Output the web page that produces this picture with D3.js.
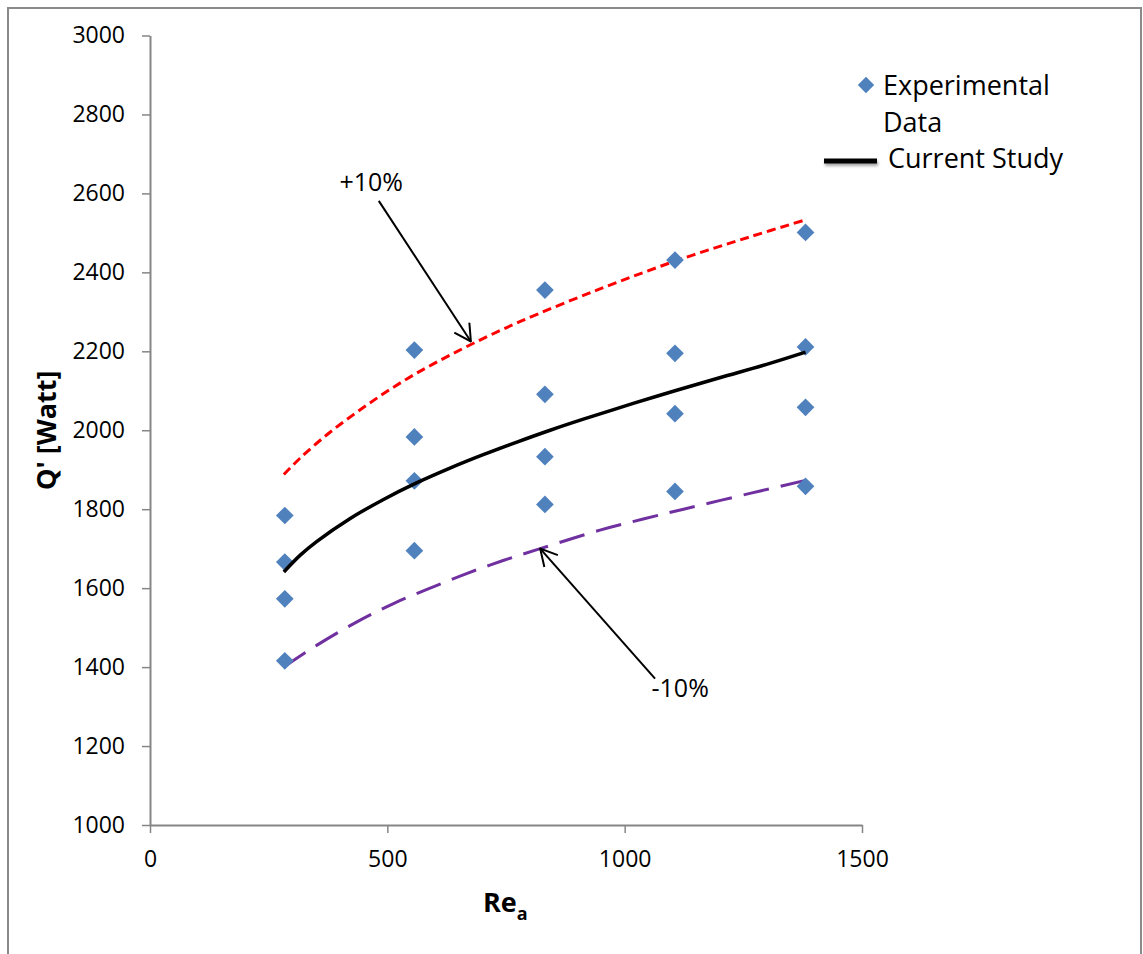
<!DOCTYPE html>
<html>
<head>
<meta charset="utf-8">
<script src="https://cdn.jsdelivr.net/npm/d3@7"></script>
<style>
  html, body { margin: 0; padding: 0; background: #fff; }
  svg { display: block; font-family: "Open Sans", "Liberation Sans", sans-serif; }
</style>
</head>
<body>
<svg id="chart" width="1143" height="954"></svg>
<script>
// Reynolds numbers of the measured cases
const reLevels = [284, 557, 832, 1106, 1381];
// Measured heat rates Q' [W], four runs per Reynolds number
const qExpRun1 = [1784, 2203, 2355, 2431, 2501];
const qExpRun2 = [1666, 1983, 2091, 2195, 2211];
const qExpRun3 = [1573, 1872, 1933, 2042, 2058];
const qExpRun4 = [1416, 1695, 1812, 1845, 1858];

// Current study prediction
const studyRe = [282, 316, 351, 421, 491, 557, 632, 702, 773, 843, 913, 1018, 1106, 1200, 1299, 1381];
const studyQ  = [1641, 1683, 1718, 1776, 1824, 1864, 1904, 1938, 1970, 2000, 2028, 2068, 2100, 2133, 2167, 2198];

// +10% band
const upperRe = [282, 316, 372, 428, 485, 541, 597, 674, 779, 948, 1110, 1264, 1381];
const upperQ  = [1888, 1929, 1988, 2039, 2087, 2130, 2168, 2216, 2275, 2358, 2430, 2490, 2533];

// -10% band
const lowerRe = [282, 351, 435, 513, 590, 667, 744, 822, 948, 1039, 1124, 1264, 1381];
const lowerQ  = [1400, 1455, 1514, 1561, 1600, 1637, 1670, 1700, 1747, 1775, 1800, 1840, 1873];

const xTicks = [0, 500, 1000, 1500];
const yTicks = [1000, 1200, 1400, 1600, 1800, 2000, 2200, 2400, 2600, 2800, 3000];

// Band annotations: label centre, arrow start and arrow tip (data units)
const plusLabel  = { text: "+10%", re: 466, q: 2605, startRe: 482, startQ: 2581, tipRe: 676, tipQ: 2225 };
const minusLabel = { text: "-10%", re: 1117, q: 1323, startRe: 1064, startQ: 1371, tipRe: 822, tipQ: 1700 };

const svg = d3.select("#chart");

const x = d3.scaleLinear().domain([0, 1500]).range([150, 862]);
const y = d3.scaleLinear().domain([1000, 3000]).range([825, 35.5]);

const axisColor = "#868686";

// outer frame
svg.append("rect")
  .attr("x", 8).attr("y", 8)
  .attr("width", 1133).attr("height", 1000)
  .attr("fill", "none")
  .attr("stroke", "#8a8a8a")
  .attr("stroke-width", 2);

// defs: open arrowhead and soft shadow
const defs = svg.append("defs");
defs.append("marker")
  .attr("id", "openArrow")
  .attr("viewBox", "0 0 20 20")
  .attr("refX", 19).attr("refY", 10)
  .attr("markerWidth", 20).attr("markerHeight", 20)
  .attr("markerUnits", "userSpaceOnUse")
  .attr("orient", "auto")
  .append("path")
  .attr("d", "M2.5,1 L19,10 L2.5,19")
  .attr("fill", "none")
  .attr("stroke", "#000")
  .attr("stroke-width", 2);

defs.append("filter").attr("id", "softBlur")
  .attr("x", "-20%").attr("y", "-100%").attr("width", "140%").attr("height", "300%")
  .append("feGaussianBlur").attr("stdDeviation", 1.6);

// axes
const fmt = d3.format("d");
const yAxis = d3.axisLeft(y).tickValues(yTicks).tickFormat(fmt).tickSize(8).tickSizeOuter(0).tickPadding(17);
const xAxis = d3.axisBottom(x).tickValues(xTicks).tickFormat(fmt).tickSize(8).tickSizeOuter(0).tickPadding(18);

const gy = svg.append("g").attr("transform", `translate(${x(0)},0)`).call(yAxis);
const gx = svg.append("g").attr("transform", `translate(0,${y(1000)})`).call(xAxis);

[gx, gy].forEach(g => {
  g.select(".domain").attr("stroke", axisColor).attr("stroke-width", 2);
  g.selectAll(".tick line").attr("stroke", axisColor).attr("stroke-width", 1.5);
  g.selectAll(".tick text")
    .attr("fill", "#000")
    .style("font-family", "'Open Sans', sans-serif")
    .style("font-size", "23px");
});

// axis titles
svg.append("text")
  .attr("transform", `translate(56,${(y(1000) + y(3000)) / 2}) rotate(-90)`)
  .attr("text-anchor", "middle")
  .style("font-size", "27px")
  .style("font-weight", "bold")
  .text("Q' [Watt]");

const xt = svg.append("text")
  .attr("x", 483).attr("y", 912)
  .style("font-size", "27px")
  .style("font-weight", "bold");
xt.append("tspan").text("Re");
xt.append("tspan").attr("dy", 8).style("font-size", "18px").text("a");

// curves
const line = d3.line()
  .x(d => x(d[0]))
  .y(d => y(d[1]))
  .curve(d3.curveCatmullRom.alpha(0.5));

const upper = upperRe.map((r, i) => [r, upperQ[i]]);
const lower = lowerRe.map((r, i) => [r, lowerQ[i]]);
const study = studyRe.map((r, i) => [r, studyQ[i]]);

svg.append("path").datum(upper)
  .attr("d", line).attr("fill", "none")
  .attr("stroke", "#ff0000").attr("stroke-width", 3)
  .attr("stroke-dasharray", "9 5");

svg.append("path").datum(lower)
  .attr("d", line).attr("fill", "none")
  .attr("stroke", "#7030a0").attr("stroke-width", 3)
  .attr("stroke-dasharray", "26 12");

// experimental diamonds
const expPoints = [];
[qExpRun1, qExpRun2, qExpRun3, qExpRun4].forEach(run =>
  run.forEach((q, i) => expPoints.push([reLevels[i], q])));

const diamond = d3.symbol().type(d3.symbolDiamond2).size(200);

svg.append("g").selectAll("path")
  .data(expPoints)
  .join("path")
  .attr("transform", d => `translate(${x(d[0])},${y(d[1])})`)
  .attr("d", diamond)
  .attr("fill", "#4f81bd");

svg.append("path").datum(study)
  .attr("d", line).attr("fill", "none")
  .attr("stroke", "#000").attr("stroke-width", 3.5);

// annotations
[plusLabel, minusLabel].forEach(a => {
  svg.append("line")
    .attr("x1", x(a.startRe)).attr("y1", y(a.startQ))
    .attr("x2", x(a.tipRe)).attr("y2", y(a.tipQ))
    .attr("stroke", "#000").attr("stroke-width", 2)
    .attr("marker-end", "url(#openArrow)");
  svg.append("text")
    .attr("x", x(a.re)).attr("y", y(a.q))
    .attr("text-anchor", "middle")
    .style("font-size", "25px")
    .text(a.text);
});

// legend
const legend = svg.append("g");
legend.append("path")
  .attr("transform", "translate(866,85)")
  .attr("d", d3.symbol().type(d3.symbolDiamond2).size(170))
  .attr("fill", "#4f81bd");
legend.append("text").attr("x", 883).attr("y", 95).style("font-size", "27px").text("Experimental");
legend.append("text").attr("x", 883).attr("y", 132).style("font-size", "27px").text("Data");
legend.append("rect")
  .attr("x", 825).attr("y", 161).attr("width", 53).attr("height", 5)
  .attr("fill", "#000").attr("opacity", 0.35)
  .attr("filter", "url(#softBlur)");
legend.append("rect")
  .attr("x", 824).attr("y", 158.5).attr("width", 53).attr("height", 5)
  .attr("fill", "#000");
legend.append("text").attr("x", 888).attr("y", 168).style("font-size", "27px").text("Current Study");
</script>
</body>
</html>
